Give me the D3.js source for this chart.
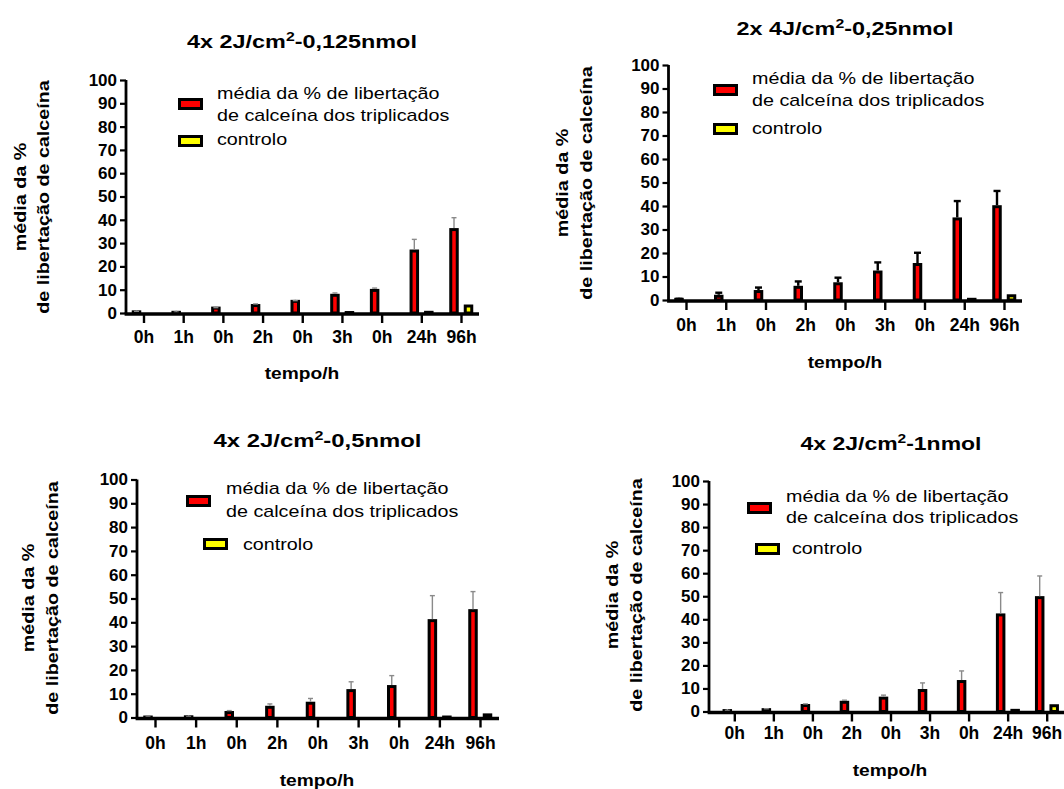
<!DOCTYPE html>
<html>
<head>
<meta charset="utf-8">
<script src="https://cdn.jsdelivr.net/npm/d3@7"></script>
<style>
  body { margin: 0; background: #fff; }
  text { font-family: "Liberation Sans", Arial, sans-serif; fill: #000; }
</style>
</head>
<body>
<script>
// tick labels on the x axis (one per group, labels repeat)
const categories = ["0h", "1h", "0h", "2h", "0h", "3h", "0h", "24h", "96h"];
const yTicks = [0, 10, 20, 30, 40, 50, 60, 70, 80, 90, 100];

const titlePre = ["4x 2J/cm", "2x 4J/cm", "4x 2J/cm", "4x 2J/cm"];
const titleSuf = ["-0,125nmol", "-0,25nmol", "-0,5nmol", "-1nmol"];

// média da % de libertação (red) + error, and controlo (yellow)
const mean0125 = [0.5, 0.3, 2.1, 3.2, 5.0, 7.6, 9.7, 26.6, 35.8];
const err0125  = [0.2, 0.1, 0.2, 0.7, 0.3, 1.0, 1.0, 5.0, 5.1];
const ctrl0125 = [0, 0, 0, 0, 0, 0.2, 0, 0.3, 3.0];

const mean025 = [0.3, 1.6, 3.6, 5.4, 6.9, 11.9, 15.1, 34.5, 39.7];
const err025  = [0.2, 1.5, 1.7, 2.5, 2.6, 4.1, 5.0, 7.6, 6.7];
const ctrl025 = [0, 0, 0, 0, 0, 0, 0, 0.3, 1.8];

const mean05 = [0.2, 0.3, 2.1, 4.3, 6.0, 11.3, 13.0, 40.7, 44.9];
const err05  = [0.1, 0.1, 0.8, 1.4, 2.0, 3.7, 4.6, 10.5, 8.0];
const ctrl05 = [0, 0, 0, 0, 0, 0, 0, 0.2, 1.1];

const mean1 = [0.4, 0.8, 2.6, 4.0, 5.8, 9.1, 13.0, 41.9, 49.4];
const err1  = [0.1, 0.4, 0.7, 0.9, 1.3, 3.3, 4.6, 9.7, 9.4];
const ctrl1 = [0, 0, 0, 0, 0, 0, 0, 0.5, 2.5];

const legendLines = ["média da % de libertação", "de calceína dos triplicados"];
const legendCtrl = "controlo";
const yLabelLines = ["média da %", "de libertação de calceína"];
const xLabel = "tempo/h";

// layout of each of the 4 panels
const panels = [
    {mean: mean0125, err: err0125, ctrl: ctrl0125, axX: 126, y0: 313, y100: 80, t0: 143.5, t8: 461, axEnd: 479,
     errColor: "#8a8a8a", errW: 1.4, capW: 5, titleX: 302, titleY: 48, titleW: 230,
     ylx: [20, 43], yly: 197, tickY: 343, xlY: 379, xlX: 302,
     leg: {sx: 178, sy1: 98, sx2: 178, sy2: 135, tx1: 217, b1: 98.5, b2: 121, tx2: 217, b3: 145}},
    {mean: mean025, err: err025, ctrl: ctrl025, axX: 668.5, y0: 300, y100: 65, t0: 686, t8: 1004, axEnd: 1022,
     errColor: "#000", errW: 2.4, capW: 7, titleX: 845, titleY: 35, titleW: 217,
     ylx: [562, 586], yly: 183, tickY: 331, xlY: 368, xlX: 845,
     leg: {sx: 713, sy1: 84, sx2: 713, sy2: 123, tx1: 752, b1: 84, b2: 106, tx2: 752, b3: 134}},
    {mean: mean05, err: err05, ctrl: ctrl05, axX: 137, y0: 717.5, y100: 479.5, t0: 155, t8: 480, axEnd: 499,
     errColor: "#8a8a8a", errW: 1.4, capW: 5, titleX: 317.5, titleY: 447, titleW: 208,
     ylx: [28, 52], yly: 598, tickY: 749, xlY: 786, xlX: 317,
     leg: {sx: 186, sy1: 495, sx2: 203, sy2: 538, tx1: 226, b1: 494, b2: 516.5, tx2: 243, b3: 550}},
    {mean: mean1, err: err1, ctrl: ctrl1, axX: 709, y0: 711.5, y100: 481, t0: 734.3, t8: 1046.7, axEnd: 1075,
     errColor: "#8a8a8a", errW: 1.4, capW: 5, titleX: 891, titleY: 450, titleW: 181,
     ylx: [612, 636], yly: 595, tickY: 739, xlY: 776, xlX: 890,
     leg: {sx: 747, sy1: 502, sx2: 755, sy2: 543, tx1: 786, b1: 502, b2: 523, tx2: 792, b3: 554}}
];

const svg = d3.select("body").append("svg")
    .attr("width", 1064)
    .attr("height", 789);

const FS = 17;          // font size of legend / axis titles
const STRETCH = 1.16;   // texts in the picture are a bit wider than Arial

panels.forEach(function(p, pi) {
    let g = svg.append("g");

    let x = d3.scalePoint()
        .domain(d3.range(categories.length))
        .range([p.t0, p.t8]);
    let y = d3.scaleLinear()
        .domain([0, 100])
        .range([p.y0, p.y100]);

    // bars: red (mean) left of tick, yellow (controlo) right of tick
    let bw = 6.5;
    g.selectAll(".bar-mean")
        .data(p.mean)
        .enter().append("rect")
        .attr("x", (d, i) => x(i) - 7 - bw / 2)
        .attr("y", d => y(d))
        .attr("width", bw)
        .attr("height", d => y(0) - y(d))
        .attr("fill", "#ff0000")
        .attr("stroke", "#000")
        .attr("stroke-width", 3);

    g.selectAll(".bar-ctrl")
        .data(p.ctrl)
        .enter().append("rect")
        .attr("x", (d, i) => x(i) + 7.5 - bw / 2)
        .attr("y", d => y(d))
        .attr("width", bw)
        .attr("height", d => y(0) - y(d))
        .attr("fill", "#ffff00")
        .attr("stroke", "#000")
        .attr("stroke-width", d => d > 0 ? 3 : 0);

    // error bars (upper half only)
    let eb = g.selectAll(".err")
        .data(p.mean.map((m, i) => ({i: i, m: m, e: p.err[i]})))
        .enter().append("g");
    eb.append("line")
        .attr("x1", d => x(d.i) - 7).attr("x2", d => x(d.i) - 7)
        .attr("y1", d => y(d.m) - 1.5)
        .attr("y2", d => y(d.m + d.e))
        .attr("stroke", p.errColor)
        .attr("stroke-width", p.errW);
    eb.append("line")
        .attr("x1", d => x(d.i) - 7 - p.capW / 2).attr("x2", d => x(d.i) - 7 + p.capW / 2)
        .attr("y1", d => y(d.m + d.e))
        .attr("y2", d => y(d.m + d.e))
        .attr("stroke", p.errColor)
        .attr("stroke-width", p.errW);

    // y axis
    let yAxis = d3.axisLeft(y)
        .tickValues(yTicks)
        .tickSize(6)
        .tickPadding(3);
    let ya = g.append("g")
        .attr("transform", `translate(${p.axX},0)`)
        .call(yAxis);
    ya.select(".domain").attr("stroke-width", 2.8).attr("d", `M0,${p.y0}V${p.y100}`);
    ya.selectAll(".tick line").attr("stroke-width", 2.2);
    ya.selectAll(".tick text")
        .attr("font-family", "Liberation Sans, Arial, sans-serif")
        .attr("font-size", "17px")
        .attr("font-weight", "bold");

    // x axis
    let xAxis = d3.axisBottom(x)
        .tickSize(9)
        .tickPadding(4)
        .tickFormat(i => categories[i]);
    let xa = g.append("g")
        .attr("transform", `translate(0,${p.y0 + 1})`)
        .call(xAxis);
    xa.select(".domain").remove();
    xa.selectAll(".tick line").attr("stroke-width", 2.4);
    xa.selectAll(".tick text")
        .attr("font-family", "Liberation Sans, Arial, sans-serif")
        .attr("font-size", "17.5px")
        .attr("font-weight", "bold")
        .attr("y", null)
        .attr("dy", null)
        .attr("transform", `translate(0,${p.tickY - p.y0 - 1})`);
    g.append("line")
        .attr("x1", p.axX - 1.4).attr("x2", p.axEnd)
        .attr("y1", p.y0 + 1).attr("y2", p.y0 + 1)
        .attr("stroke", "#000")
        .attr("stroke-width", 3.4);

    // title
    let t = g.append("text")
        .attr("text-anchor", "middle")
        .attr("font-size", "18.5px")
        .attr("font-weight", "bold");
    t.append("tspan").text(titlePre[pi]);
    t.append("tspan").text("2").attr("font-size", "12.5px").attr("dy", -7);
    t.append("tspan").text(titleSuf[pi]).attr("dy", 7);
    let tw = t.node().getBBox().width;
    t.attr("transform", `translate(${p.titleX},${p.titleY}) scale(${p.titleW / tw},1)`);

    // y label (two lines, rotated)
    yLabelLines.forEach(function(line, li) {
        g.append("text")
            .attr("text-anchor", "middle")
            .attr("font-size", FS + "px")
            .attr("font-weight", "bold")
            .attr("dy", "0.36em")
            .attr("transform", `translate(${p.ylx[li]},${p.yly}) rotate(-90) scale(${STRETCH},1)`)
            .text(line);
    });

    // x label
    g.append("text")
        .attr("text-anchor", "middle")
        .attr("font-size", FS + "px")
        .attr("font-weight", "bold")
        .attr("transform", `translate(${p.xlX},${p.xlY}) scale(1.13,1)`)
        .text(xLabel);

    // legend
    let L = p.leg;
    g.append("rect")
        .attr("x", L.sx + 1.5).attr("y", L.sy1 + 1.5)
        .attr("width", 22).attr("height", 9)
        .attr("fill", "#ff0000").attr("stroke", "#000").attr("stroke-width", 3);
    g.append("rect")
        .attr("x", L.sx2 + 1.5).attr("y", L.sy2 + 1.5)
        .attr("width", 22).attr("height", 9)
        .attr("fill", "#ffff00").attr("stroke", "#000").attr("stroke-width", 3);
    [L.b1, L.b2].forEach(function(b, li) {
        g.append("text")
            .attr("font-size", FS + "px")
            .attr("transform", `translate(${L.tx1},${b}) scale(${STRETCH},1)`)
            .text(legendLines[li]);
    });
    g.append("text")
        .attr("font-size", FS + "px")
        .attr("transform", `translate(${L.tx2},${L.b3}) scale(${STRETCH},1)`)
        .text(legendCtrl);
});
</script>
</body>
</html>
